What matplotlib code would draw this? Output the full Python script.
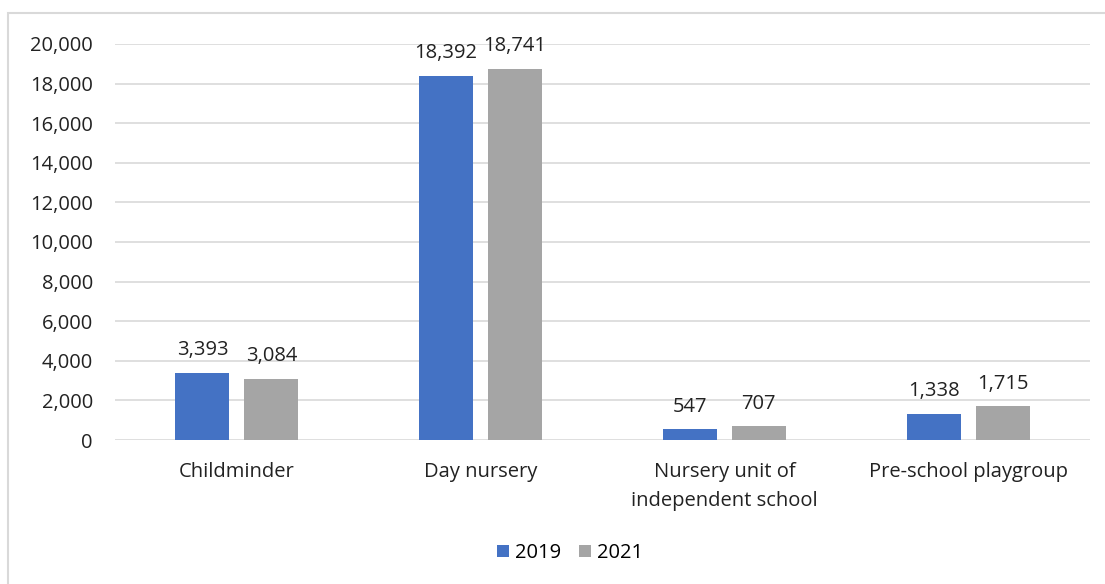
import matplotlib.pyplot as plt
import matplotlib.patches as mpatches
import numpy as np

categories = ["Childminder", "Day nursery", "Nursery unit of\nindependent school", "Pre-school playgroup"]
series_names = ["2019", "2021"]
values_2019 = [3393, 18392, 547, 1338]
values_2021 = [3084, 18741, 707, 1715]
yticks = [0, 2000, 4000, 6000, 8000, 10000, 12000, 14000, 16000, 18000, 20000]

plt.rcParams['font.family'] = ['Open Sans', 'DejaVu Sans']
fs = 14.5

fig = plt.figure(figsize=(11.05, 5.84), dpi=100)
# chart border
fig.patches.append(mpatches.Rectangle((8 / 1105, -0.05), 1.2, 1 - 13 / 584 + 0.05,
                                      transform=fig.transFigure, fill=False,
                                      edgecolor='#d9d9d9', linewidth=1.5))

ax = fig.add_axes([115 / 1105, 1 - 440 / 584, 975 / 1105, 396 / 584])

x = np.arange(len(categories))
w = 0.2215
off = 0.1415
b1 = ax.bar(x - off, values_2019, w, color='#4472C4', label=series_names[0], zorder=3)
b2 = ax.bar(x + off, values_2021, w, color='#A5A5A5', label=series_names[1], zorder=3)

for bars, vals in [(b1, values_2019), (b2, values_2021)]:
    for r, v in zip(bars, vals):
        ax.annotate(f"{v:,}", (r.get_x() + r.get_width() / 2, v), xytext=(0, 9),
                    textcoords='offset points', ha='center', va='bottom',
                    fontsize=fs, color='#222222', annotation_clip=False)

ax.set_xlim(-0.5, len(categories) - 0.5)
ax.set_ylim(0, 20000)
ax.set_yticks(yticks)
ax.set_yticklabels([f"{t:,}" for t in yticks], fontsize=fs, color='#222222')
ax.set_xticks(x)
ax.set_xticklabels(categories, fontsize=fs, color='#222222', linespacing=1.6, va='top')
ax.tick_params(axis='both', length=0)
ax.tick_params(axis='y', pad=16)
ax.tick_params(axis='x', pad=16)
ax.yaxis.grid(True, color='#d9d9d9', linewidth=1.2, zorder=0)
for s in ax.spines.values():
    s.set_visible(False)

fig.legend(handles=[b1, b2], labels=series_names, loc='center', bbox_to_anchor=(570 / 1105, 1 - 553 / 584),
           ncol=2, frameon=False, fontsize=fs, handlelength=0.6, handleheight=0.6,
           handletextpad=0.3, columnspacing=0.9)

fig.savefig("out.png", dpi=100)
